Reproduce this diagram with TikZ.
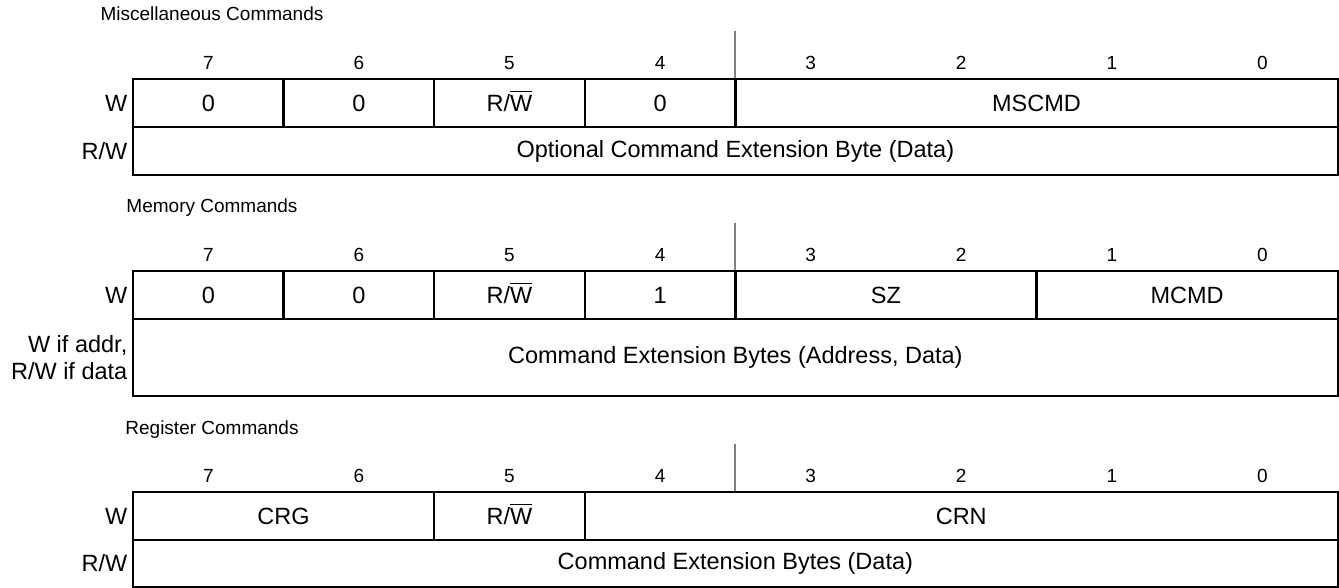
\documentclass[tikz,border=0pt]{standalone}
\usepackage{fontspec}
\setmainfont{Liberation Sans}
\usepackage{amsmath}
\usetikzlibrary{positioning}
\definecolor{SepGrey}{RGB}{128,128,128}
\newcommand{\nW}{R/$\smash{\overline{\text{W}}}$}
\def\cw{150.59}

\begin{document}
\begin{tikzpicture}[x=1pt, y=-1pt,
  cell/.style={draw, line width=2.3pt, minimum height=48pt, inner sep=0pt, outer sep=0pt, anchor=north west, font=\fontsize{23.5}{27}\selectfont},
  bits/.style={minimum width=#1*\cw pt},
  bitno/.style={font=\fontsize{19}{22}\selectfont},
  title/.style={anchor=base, font=\fontsize{19}{22}\selectfont},
  side/.style={inner sep=0pt, align=right, font=\fontsize{23.5}{27}\selectfont},
  sep/.style={draw=SepGrey, line width=2pt}]
\useasboundingbox (0,0) rectangle (1339,588);

% bit numbers and grey divider above each register
\foreach \top/\tag in {79/a,271/b,492/c}{
  \foreach \b in {0,...,7}
    \node[bitno] (\tag bit\b) at ({133+(7.5-\b)*\cw}, \top-16) {\b};
  \coordinate (\tag sepA) at (735.3,\top-48);
  \coordinate (\tag sepB) at (735.3,\top);
  \draw[sep] (\tag sepA) -- (\tag sepB);
}

% miscellaneous
\node[title] (mtitle) at (212,21) {Miscellaneous Commands};
\node[cell, bits=1] (m7) at (133,79) {0};
\node[cell, bits=1] (m6) at (m7.north east) {0};
\node[cell, bits=1] (m5) at (m6.north east) {\nW};
\node[cell, bits=1] (m4) at (m5.north east) {0};
\node[cell, bits=4] (mscmd) at (m4.north east) {MSCMD};
\node[cell, bits=8] (mext) at (m7.south west) {Optional Command Extension Byte (Data)};
\node[side, left=5.5pt of m7] (mw) {W};
\node[side, left=5.5pt of mext] (mrw) {R/W};

% memory
\node[title] (ytitle) at (212,213) {Memory Commands};
\node[cell, bits=1] (y7) at (133,271) {0};
\node[cell, bits=1] (y6) at (y7.north east) {0};
\node[cell, bits=1] (y5) at (y6.north east) {\nW};
\node[cell, bits=1] (y4) at (y5.north east) {1};
\node[cell, bits=2] (ysz) at (y4.north east) {SZ};
\node[cell, bits=2] (ymcmd) at (ysz.north east) {MCMD};
\node[cell, bits=8, minimum height=77pt] (yext) at (y7.south west) {Command Extension Bytes (Address, Data)};
\node[side, left=5.5pt of y7] (yw) {W};
\node[side, left=5.5pt of yext] (yrw) {W if addr,\\R/W if data};

% register
\node[title] (rtitle) at (212,434) {Register Commands};
\node[cell, bits=2] (rcrg) at (133,492) {CRG};
\node[cell, bits=1] (r5) at (rcrg.north east) {\nW};
\node[cell, bits=5] (rcrn) at (r5.north east) {CRN};
\node[cell, bits=8, minimum height=47pt] (rext) at (rcrg.south west) {Command Extension Bytes (Data)};
\node[side, left=5.5pt of rcrg] (rw) {W};
\node[side, left=5.5pt of rext] (rrw) {R/W};
\end{tikzpicture}
\end{document}
